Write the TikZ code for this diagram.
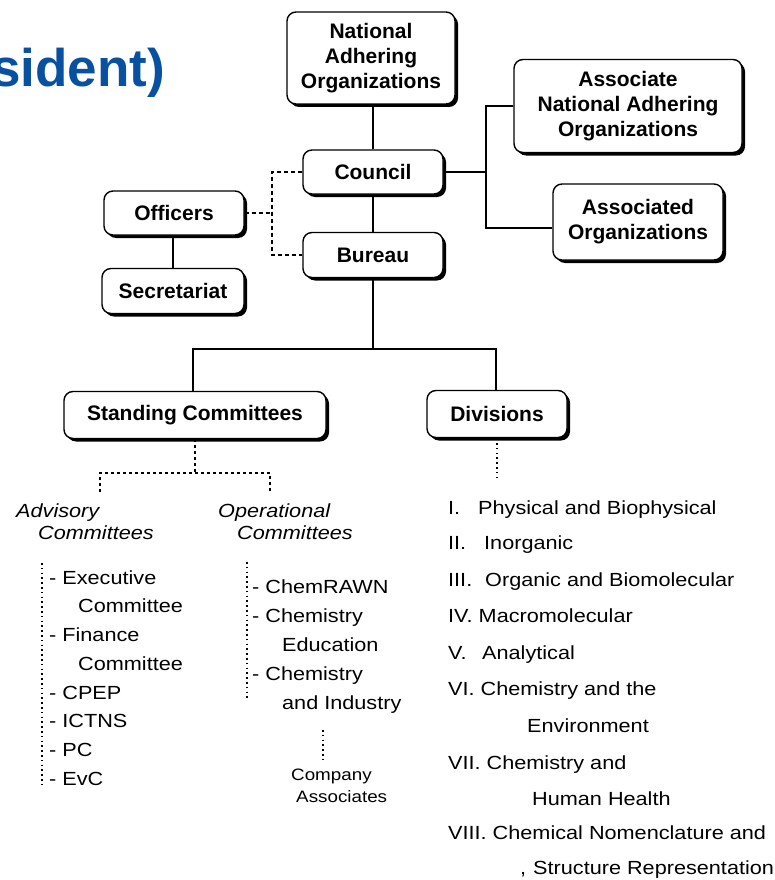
\documentclass[tikz,border=0pt]{standalone}
\usepackage{fontspec}
\setmainfont{Liberation Sans}
\newfontfamily\regf[FakeStretch=1.14]{Liberation Sans}
\usetikzlibrary{shadows}
\definecolor{iupacblue}{RGB}{8,80,160}
\tikzset{
  orgbox/.style={draw, line width=1.4pt, rounded corners=9pt, fill=white,
    align=center, inner sep=0pt,
    font=\bfseries\fontsize{21}{25}\selectfont,
    drop shadow={shadow xshift=3pt, shadow yshift=-3pt, fill=black, opacity=1}},
  conn/.style={line width=1.3pt},
  dashconn/.style={line width=1.2pt, dash pattern=on 4pt off 3pt},
  dotconn/.style={line width=1.3pt, dash pattern=on 1.6pt off 3.2pt},
  item/.style={anchor=base west, inner sep=0pt, font=\regf\fontsize{19}{22}\selectfont},
  itemit/.style={anchor=base west, inner sep=0pt, font=\regf\itshape\fontsize{19}{22}\selectfont},
  small/.style={anchor=base west, inner sep=0pt, font=\regf\fontsize{16.5}{20}\selectfont}
}
\begin{document}
\begin{tikzpicture}[x=1pt,y=-1pt]
\useasboundingbox (0,0) rectangle (774,880);
\clip (0,0) rectangle (774,880);
\fill[white] (0,0) rectangle (774,880);

% blue heading fragment
\node[anchor=base east, inner sep=0pt, text=iupacblue,
  font=\bfseries\fontsize{53}{60}\selectfont] (head) at (165,87) {sident)};

% boxes
\node[orgbox, minimum width=168pt, minimum height=92pt] (nao) at (371,58)
  {National\\Adhering\\Organizations};
\node[orgbox, minimum width=140pt, minimum height=44pt] (council) at (373,172) {Council};
\node[orgbox, minimum width=140pt, minimum height=45pt] (bureau) at (373,255) {Bureau};
\node[orgbox, minimum width=140pt, minimum height=44pt] (officers) at (174,213) {Officers};
\node[orgbox, minimum width=142pt, minimum height=45pt] (secr) at (173,291) {Secretariat};
\node[orgbox, minimum width=228pt, minimum height=93pt] (anao) at (628,106)
  {Associate\\National Adhering\\Organizations};
\node[orgbox, minimum width=170pt, minimum height=76pt] (ao) at (638,222)
  {Associated\\Organizations};
\node[orgbox, minimum width=262pt, minimum height=47pt] (standing) at (195,415)
  {Standing Committees};
\node[orgbox, minimum width=140pt, minimum height=47pt] (divisions) at (497,414)
  {Divisions};

% solid connectors
\draw[conn] (council.north) -- (council.north |- nao.south);
\draw[conn] (council.south) -- (bureau.north);
\draw[conn] (officers.south -| secr.north) -- (secr.north);
\coordinate (hub) at (373,349);
\draw[conn] (bureau.south) -- (hub);
\draw[conn] (standing.north -| 193,0) |- (hub) -| (divisions.north -| 496,0);
\coordinate (rj) at (486,172);
\draw[conn] (council.east) -- (rj);
\draw[conn] (anao.west) -| (rj) |- ([yshift=-6pt]ao.west);

% dashed connectors
\coordinate (dj) at (272,213);
\draw[dashconn] (officers.east) -- (dj);
\draw[dashconn] (council.west) -| (dj) |- (bureau.west);
\coordinate (sj) at (195,473);
\coordinate (advtop) at (100,492);
\coordinate (optop) at (270,492);
\draw[dashconn, dash pattern=on 3pt off 3pt] (standing.south) -- (sj);
\draw[dashconn, dash pattern=on 3pt off 3pt] (advtop) |- (sj) -| (optop);

% dotted connectors
\coordinate (divend) at (497,480);
\draw[dotconn] (divisions.south) -- (divend);
\coordinate (adva) at (42,563);
\coordinate (advb) at (42,787);
\draw[dotconn] (adva) -- (advb);
\coordinate (opa) at (247,562);
\coordinate (opb) at (247,698);
\draw[dotconn] (opa) -- (opb);
\coordinate (ca) at (323,730);
\coordinate (cb) at (323,760);
\draw[dotconn] (ca) -- (cb);

% committee headings
\node[itemit] (adv1) at (16,517) {Advisory};
\node[itemit] (adv2) at (38,539) {Committees};
\node[itemit] (op1) at (218,517) {Operational};
\node[itemit] (op2) at (237,539) {Committees};

% advisory list
\node[item] (a1) at (49,584) {- Executive};
\node[item] (a1b) at (78,612) {Committee};
\node[item] (a2) at (49,641) {- Finance};
\node[item] (a2b) at (78,670) {Committee};
\node[item] (a3) at (49,699) {- CPEP};
\node[item] (a4) at (49,727) {- ICTNS};
\node[item] (a5) at (49,756) {- PC};
\node[item] (a6) at (49,785) {- EvC};

% operational list
\node[item] (o1) at (252,593) {- ChemRAWN};
\node[item] (o2) at (252,622) {- Chemistry};
\node[item] (o2b) at (282,651) {Education};
\node[item] (o3) at (252,680) {- Chemistry};
\node[item] (o3b) at (282,709) {and Industry};
\node[small] (ca1) at (291,780) {Company};
\node[small] (ca2) at (296,802) {Associates};

% divisions list
\node[item] (d1n) at (448,514) {I.};
\node[item] (d1) at (478,514) {Physical and Biophysical};
\node[item] (d2n) at (448,549) {II.};
\node[item] (d2) at (484,549) {Inorganic};
\node[item] (d3n) at (448,586) {III.};
\node[item] (d3) at (485,586) {Organic and Biomolecular};
\node[item] (d4) at (448,622) {IV. Macromolecular};
\node[item] (d5n) at (448,659) {V.};
\node[item] (d5) at (482,659) {Analytical};
\node[item] (d6) at (448,695) {VI. Chemistry and the};
\node[item] (d6b) at (527,732) {Environment};
\node[item] (d7) at (448,769) {VII. Chemistry and};
\node[item] (d7b) at (532,805) {Human Health};
\node[item] (d8) at (448,839) {VIII. Chemical Nomenclature and};
\node[item] (comma) at (520,874) {,};
\node[item] (d8b) at (533,874) {Structure Representation};
\end{tikzpicture}
\end{document}
